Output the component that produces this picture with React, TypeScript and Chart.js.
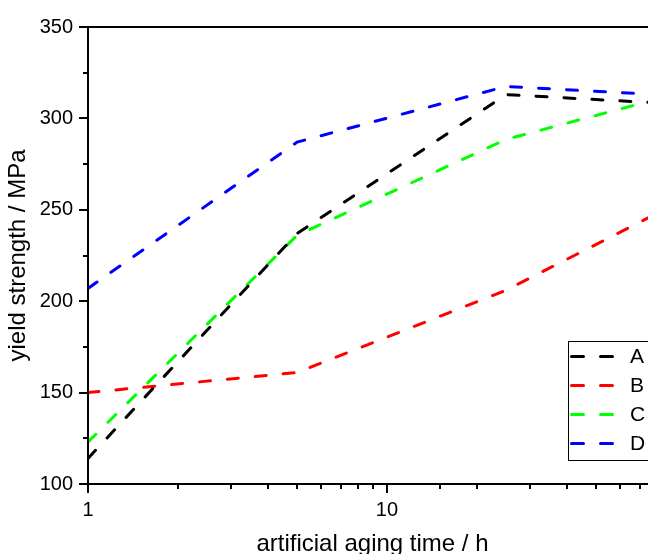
import React, { useEffect, useRef } from 'react';
import { Chart, registerables } from 'chart.js';

Chart.register(...registerables);

// ---- data ----
const agingTimes = [1, 5, 25, 80];
const seriesA = [114, 237, 313, 308.5];
const seriesB = [150, 161, 206, 248];
const seriesC = [123, 236, 288.5, 310.5];
const seriesD = [207, 287, 317.5, 313];
const seriesLabels = ['A', 'B', 'C', 'D'];
const seriesColors = ['#000000', '#ff0000', '#00ff00', '#0000ff'];
const xLabelledTicks = [1, 10, 100];
const xMin = 1;
const xMax = 80;
const yMin = 100;
const yMax = 350;
const yStep = 25;
const yLabelStep = 50;

const FONT = "Arial, 'Liberation Sans', Helvetica, sans-serif";

const framePlugin = {
  id: 'frameTicks',
  afterDraw(chart: any) {
    const { ctx, chartArea, scales } = chart;
    const { left, right, top, bottom } = chartArea;
    ctx.save();
    ctx.strokeStyle = '#000';
    ctx.lineWidth = 2;
    ctx.lineCap = 'butt';
    ctx.beginPath();
    ctx.moveTo(left, top);
    ctx.lineTo(right, top);
    ctx.lineTo(right, bottom);
    ctx.lineTo(left, bottom);
    ctx.closePath();
    ctx.stroke();

    const ys = scales.y;
    ys.ticks.forEach((t: any) => {
      const p = Math.round(ys.getPixelForValue(t.value));
      const len = t.value % yLabelStep === 0 ? 9 : 5;
      ctx.beginPath();
      ctx.moveTo(left, p);
      ctx.lineTo(left - len, p);
      ctx.stroke();
    });
    const xs = scales.x;
    xs.ticks.forEach((t: any) => {
      const p = Math.round(xs.getPixelForValue(t.value));
      const lg = Math.log10(t.value);
      const major = Math.abs(lg - Math.round(lg)) < 1e-9;
      const len = major ? 9 : 5;
      ctx.beginPath();
      ctx.moveTo(p, bottom);
      ctx.lineTo(p, bottom + len);
      ctx.stroke();
    });
    ctx.restore();
  },
};

const legendPlugin = {
  id: 'boxLegend',
  afterDraw(chart: any) {
    const { ctx, chartArea } = chart;
    const boxLeft = chartArea.right - 89;
    const boxTop = chartArea.top + 314;
    const boxW = 86;
    const rowH = 29;
    const ds = chart.data.datasets;
    const boxH = rowH * ds.length + 3;
    ctx.save();
    ctx.fillStyle = '#fff';
    ctx.fillRect(boxLeft, boxTop, boxW, boxH);
    ctx.strokeStyle = '#000';
    ctx.lineWidth = 1;
    ctx.strokeRect(boxLeft + 0.5, boxTop + 0.5, boxW, boxH);
    ds.forEach((d: any, i: number) => {
      const cy = boxTop + 15.5 + i * rowH;
      ctx.strokeStyle = d.borderColor;
      ctx.lineWidth = 3;
      ctx.lineCap = 'round';
      ctx.setLineDash([12, 17]);
      ctx.beginPath();
      ctx.moveTo(boxLeft + 3.5, cy);
      ctx.lineTo(boxLeft + 44.5, cy);
      ctx.stroke();
      ctx.setLineDash([]);
      ctx.fillStyle = '#000';
      ctx.font = `21px ${FONT}`;
      ctx.textBaseline = 'middle';
      ctx.textAlign = 'left';
      ctx.fillText(d.label, boxLeft + 62, cy + 1);
    });
    ctx.restore();
  },
};

export default function App() {
  const ref = useRef<HTMLCanvasElement>(null);
  useEffect(() => {
    if (!ref.current) return;
    const all = [seriesA, seriesB, seriesC, seriesD];
    const datasets = all.map((vals, i) => ({
      label: seriesLabels[i],
      data: agingTimes.map((t, j) => ({ x: t, y: vals[j] })),
      borderColor: seriesColors[i],
      backgroundColor: seriesColors[i],
      borderWidth: 3,
      borderDash: [11, 17],
      borderCapStyle: 'round' as const,
      pointRadius: 0,
      tension: 0,
      fill: false,
    }));
    const chart = new Chart(ref.current, {
      type: 'line',
      data: { datasets },
      options: {
        responsive: false,
        animation: false,
        devicePixelRatio: 1,
        layout: { padding: { left: 0, top: 24, right: 43, bottom: 0 } },
        plugins: { legend: { display: false }, tooltip: { enabled: false } },
        scales: {
          x: {
            type: 'logarithmic',
            min: xMin,
            max: xMax,
            position: 'bottom',
            grid: { display: false, drawTicks: false },
            border: { display: false },
            ticks: {
              autoSkip: false,
              maxRotation: 0,
              minRotation: 0,
              padding: 14,
              color: '#000',
              font: { family: FONT, size: 20 },
              callback: (v: any) => (xLabelledTicks.includes(Number(v)) ? String(v) : ''),
            },
            title: {
              display: true,
              text: 'artificial aging time / h',
              color: '#000',
              font: { family: FONT, size: 24 },
              padding: { top: 0, bottom: -5 },
            },
            afterFit: (s: any) => {
              s.height = 70;
            },
          },
          y: {
            type: 'linear',
            min: yMin,
            max: yMax,
            position: 'left',
            grid: { display: false, drawTicks: false },
            border: { display: false },
            ticks: {
              stepSize: yStep,
              padding: 15,
              color: '#000',
              font: { family: FONT, size: 20 },
              callback: (v: any) => (Number(v) % yLabelStep === 0 ? String(v) : ''),
            },
            title: {
              display: true,
              text: 'yield strength / MPa',
              color: '#000',
              font: { family: FONT, size: 24 },
              padding: { top: 4, bottom: 0 },
            },
            afterFit: (s: any) => {
              s.width = 88;
            },
          },
        },
      },
      plugins: [framePlugin, legendPlugin],
    });
    return () => chart.destroy();
  }, []);
  return (
    <div
      style={{
        position: 'fixed',
        left: 0,
        top: 0,
        width: 648,
        height: 554,
        overflow: 'hidden',
        background: '#fff',
      }}
    >
      <canvas ref={ref} width={700} height={554} style={{ display: 'block', width: 700, height: 554 }} />
    </div>
  );
}
